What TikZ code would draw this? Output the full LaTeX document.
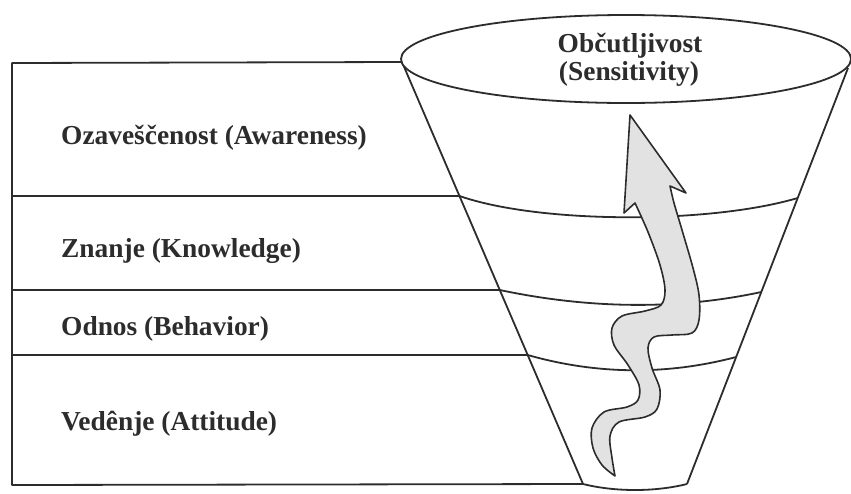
\documentclass[tikz,border=0pt]{standalone}
\usepackage{fontspec}
\setmainfont{Liberation Serif}
\usetikzlibrary{calc}
\definecolor{ink}{HTML}{2C2C2C}
\definecolor{arrowfill}{HTML}{E2E2E2}
\tikzset{
  outline/.style={draw=ink, line width=1.8pt, line join=round},
  label/.style={text=ink, font=\fontsize{27.4}{30}\selectfont\bfseries, inner sep=0pt},
  flowarrow/.style={draw=ink, line width=1.6pt, fill=arrowfill, line join=round}
}
\begin{document}
\begin{tikzpicture}[x=1pt, y=-1pt]
\useasboundingbox (0,0) rectangle (851,493);

% funnel rim and sides
\coordinate (Ltop) at (402,62);
\coordinate (Lbot) at (583,484);
\coordinate (Rtop) at (848,68);
\coordinate (Rbot) at (687,484);
\coordinate (L1) at ($(Ltop)!0.3175!(Lbot)$);
\coordinate (L2) at ($(Ltop)!0.5403!(Lbot)$);
\coordinate (L3) at ($(Ltop)!0.6943!(Lbot)$);
\coordinate (R1) at ($(Rtop)!0.3125!(Rbot)$);
\coordinate (R2) at ($(Rtop)!0.5385!(Rbot)$);
\coordinate (R3) at ($(Rtop)!0.6947!(Rbot)$);

% left frame with its band lines
\coordinate (F0) at (12,63);
\coordinate (F4) at (12,485);
\draw[outline] (Ltop) -- (F0) -- (F4) -- (Lbot);
\draw[outline] (12,196) -- (L1);
\draw[outline] (12,290) -- (L2);
\draw[outline] (12,355) -- (L3);

% funnel sides
\draw[outline] (Ltop) -- (Lbot);
\draw[outline] (Rtop) -- (Rbot);

% band curves across the funnel
\draw[outline] (L1) .. controls (540,224) and (710,224) .. (R1);
\draw[outline] (L2) .. controls (592,309.5) and (680,309.5) .. (R2);
\draw[outline] (L3) .. controls (598,375) and (668,375) .. (R3);
\draw[outline] (Lbot) .. controls (615,492) and (655,492) .. (Rbot);

% rim ellipse
\draw[outline, fill=white] (626,59) ellipse[x radius=225pt, y radius=44pt];
\node[label, anchor=base] (rim1) at (630,52) {Občutljivost};
\node[label, anchor=base] (rim2) at (629,80) {(Sensitivity)};

% band labels
\node[label, anchor=base west] (aware) at (61,144) {Ozaveščenost (Awareness)};
\node[label, anchor=base west] (know) at (61,257) {Znanje (Knowledge)};
\node[label, anchor=base west] (behav) at (61,335) {Odnos (Behavior)};
\node[label, anchor=base west] (att) at (61,430) {Vedênje (Attitude)};

% wavy rising arrow
\draw[flowarrow]
  (630,115) -- (686,193) -- (670,186)
  -- plot[smooth, tension=0.55] coordinates {
     (670,186) (674,203) (682,230) (693,268) (699,295) (699,320)
     (692,333) (672,335) (654,337) (648,348) (652,368) (660,390)
     (657,409) (645,417) (619,422) (610,436) (612,458) (615,476)}
  -- plot[smooth, tension=0.55] coordinates {
     (615,476) (602,465) (593,448) (592,428) (604,412) (627,407)
     (638,400) (639,385) (628,365) (614,345) (612,328) (622,316)
     (645,311) (661,305) (665,290) (660,265) (648,232) (635,203)}
  -- (624,213) -- cycle;
\end{tikzpicture}
\end{document}
